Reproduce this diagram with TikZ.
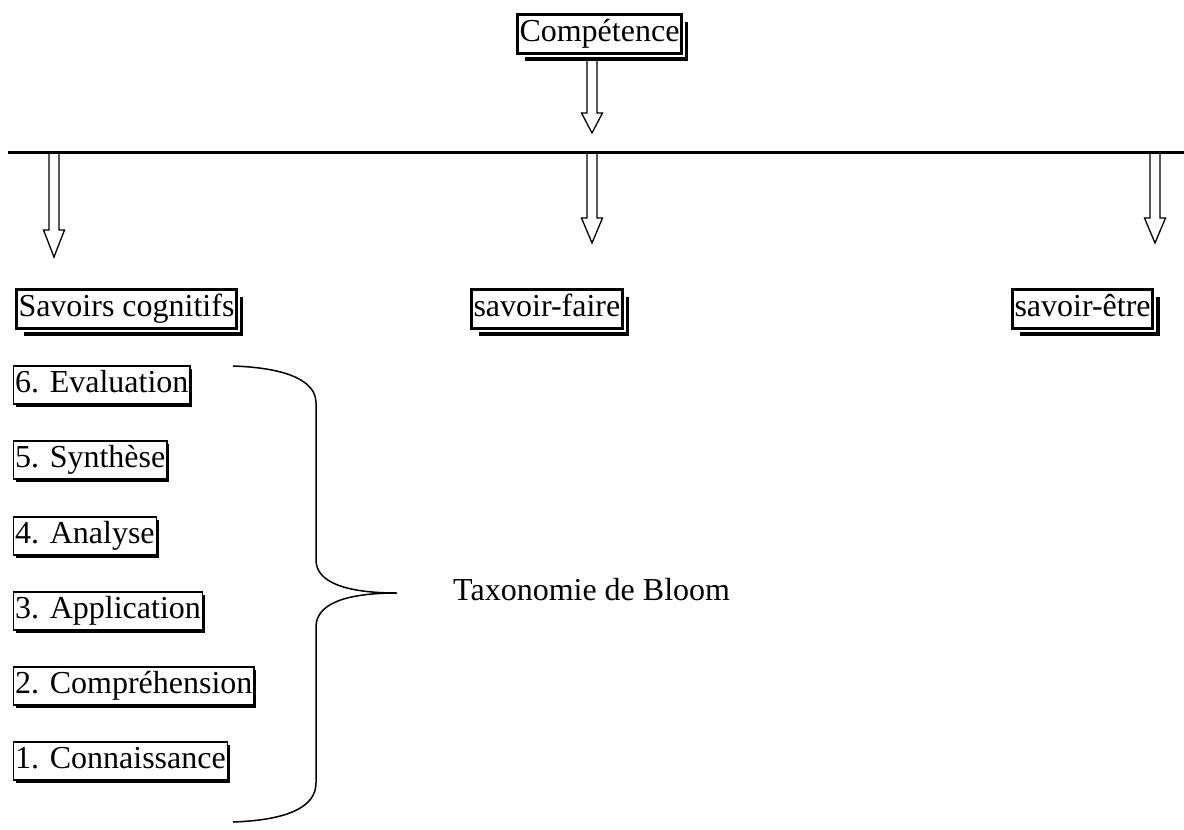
\documentclass[tikz,border=0pt]{standalone}
\usepackage{fontspec}
\setmainfont{Liberation Serif}
\usetikzlibrary{shadows}
\begin{document}
\begin{tikzpicture}[x=1pt,y=-1pt,
  txt/.style={font=\fontsize{32}{38}\selectfont, text height=22pt, text depth=7pt},
  bigbox/.style={txt, general shadow={shadow xshift=7pt, shadow yshift=-7pt, fill=black},
    preaction={draw=white, line width=7pt}, draw=black, line width=3pt, fill=white,
    inner xsep=2pt, inner ysep=5pt, anchor=west},
  smallbox/.style={txt, general shadow={shadow xshift=2.5pt, shadow yshift=-2.5pt, fill=black},
    draw=black, line width=1.3pt, fill=white, inner xsep=1.5pt, inner ysep=4.5pt, anchor=west},
  arrowline/.style={draw=black, line width=1.3pt, fill=white, line join=miter},
  pics/hollowarrow/.style 2 args={code={
    \path[arrowline] (-5,0) -- (-5,#1-#2) -- (-10.5,#1-#2) -- (0,#1) -- (10.5,#1-#2) -- (5,#1-#2) -- (5,0);
  }}
]
\useasboundingbox (0,0) rectangle (1184,830);

% arrows (drawn before line and boxes)
\coordinate (top) at (592,55);
\coordinate (la) at (54,152);
\coordinate (ma) at (592,152);
\coordinate (ra) at (1155,152);
\pic at (top) {hollowarrow={78}{20}};
\pic at (la) {hollowarrow={105}{27}};
\pic at (ma) {hollowarrow={91}{25}};
\pic at (ra) {hollowarrow={91}{25}};

% horizontal line
\coordinate (hl1) at (8,152);
\coordinate (hl2) at (1184,152);
\draw[line width=3pt] (hl1) -- (hl2);

% big boxes
\node[bigbox] (comp) at (516,34) {Compétence};
\node[bigbox] (sc) at (15,309) {Savoirs cognitifs};
\node[bigbox] (sf) at (470,309) {savoir-faire};
\node[bigbox] (se) at (1011,309) {savoir-être};

% small boxes
\node[smallbox] (b6) at (13,385) {6. Evaluation};
\node[smallbox] (b5) at (13,460) {5. Synthèse};
\node[smallbox] (b4) at (13,536) {4. Analyse};
\node[smallbox] (b3) at (13,611) {3. Application};
\node[smallbox] (b2) at (13,686) {2. Compréhension};
\node[smallbox] (b1) at (13,761) {1. Connaissance};

% brace
\coordinate (bt) at (233,366);
\coordinate (tip) at (397,593);
\coordinate (bb) at (233,822);
\draw[line width=1.5pt] (bt) .. controls (290,368) and (316,382) .. (316,403) -- (316,560)
  .. controls (316,582) and (345,593) .. (tip)
  .. controls (345,593) and (316,604) .. (316,627) -- (316,783)
  .. controls (316,806) and (290,820) .. (bb);

\node[txt, anchor=west, inner sep=0pt] (tax) at (453,593) {Taxonomie de Bloom};
\end{tikzpicture}
\end{document}
